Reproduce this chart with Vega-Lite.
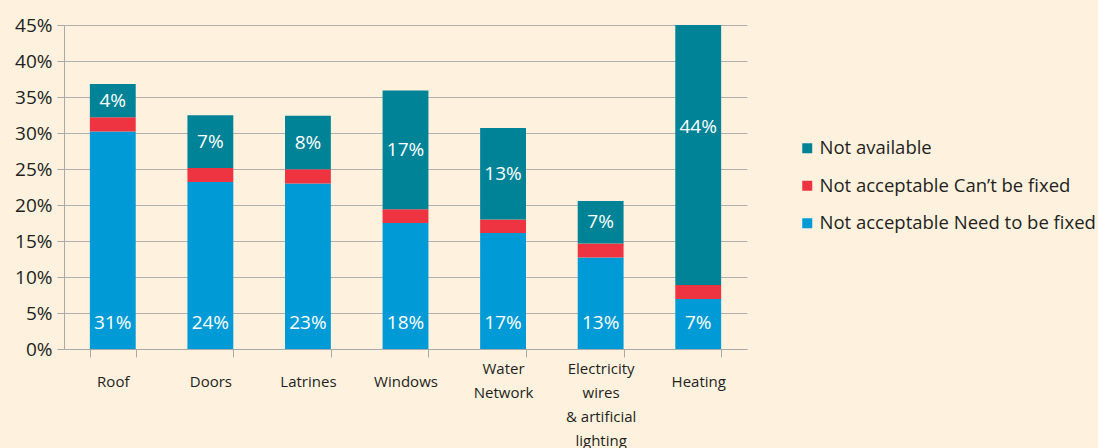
{
  "$schema": "https://vega.github.io/schema/vega-lite/v6.json",
  "width": 683,
  "height": 324,
  "autosize": {"type": "none"},
  "padding": {"left": 64, "top": 25, "right": 351, "bottom": 99},
  "background": "#FEF2DF",
  "config": {
    "view": {"stroke": null},
    "font": "Open Sans",
    "axisX": {
      "title": null,
      "labelAngle": 0,
      "labelFontSize": 15,
      "labelColor": "#231F20",
      "labelLineHeight": 24,
      "labelBaseline": "top",
      "labelOverlap": false,
      "tickBand": "extent",
      "tickSize": 8,
      "tickColor": "#A9A9A9",
      "domainColor": "#A9A9A9",
      "grid": false
    },
    "axisY": {
      "title": null,
      "labelFontSize": 19,
      "labelColor": "#231F20",
      "labelPadding": 5,
      "labelOverlap": false,
      "labelFlush": false,
      "tickSize": 7,
      "tickColor": "#A9A9A9",
      "domainColor": "#A9A9A9",
      "gridColor": "#B0B0B0",
      "grid": true
    }
  },
  "data": {
    "values": [
      {"category": "Roof", "series": "Not acceptable Need to be fixed", "order": 1, "value": 30.2, "label": "31%"},
      {"category": "Roof", "series": "Not acceptable Can’t be fixed", "order": 2, "value": 2.0, "label": ""},
      {"category": "Roof", "series": "Not available", "order": 3, "value": 4.6, "label": "4%"},
      {"category": "Doors", "series": "Not acceptable Need to be fixed", "order": 1, "value": 23.2, "label": "24%"},
      {"category": "Doors", "series": "Not acceptable Can’t be fixed", "order": 2, "value": 1.95, "label": ""},
      {"category": "Doors", "series": "Not available", "order": 3, "value": 7.3, "label": "7%"},
      {"category": "Latrines", "series": "Not acceptable Need to be fixed", "order": 1, "value": 23.0, "label": "23%"},
      {"category": "Latrines", "series": "Not acceptable Can’t be fixed", "order": 2, "value": 1.95, "label": ""},
      {"category": "Latrines", "series": "Not available", "order": 3, "value": 7.45, "label": "8%"},
      {"category": "Windows", "series": "Not acceptable Need to be fixed", "order": 1, "value": 17.5, "label": "18%"},
      {"category": "Windows", "series": "Not acceptable Can’t be fixed", "order": 2, "value": 1.9, "label": ""},
      {"category": "Windows", "series": "Not available", "order": 3, "value": 16.5, "label": "17%"},
      {"category": "Water Network", "series": "Not acceptable Need to be fixed", "order": 1, "value": 16.1, "label": "17%"},
      {"category": "Water Network", "series": "Not acceptable Can’t be fixed", "order": 2, "value": 1.9, "label": ""},
      {"category": "Water Network", "series": "Not available", "order": 3, "value": 12.7, "label": "13%"},
      {"category": "Electricity wires & artificial lighting", "series": "Not acceptable Need to be fixed", "order": 1, "value": 12.7, "label": "13%"},
      {"category": "Electricity wires & artificial lighting", "series": "Not acceptable Can’t be fixed", "order": 2, "value": 1.95, "label": ""},
      {"category": "Electricity wires & artificial lighting", "series": "Not available", "order": 3, "value": 5.9, "label": "7%"},
      {"category": "Heating", "series": "Not acceptable Need to be fixed", "order": 1, "value": 6.95, "label": "7%"},
      {"category": "Heating", "series": "Not acceptable Can’t be fixed", "order": 2, "value": 1.95, "label": ""},
      {"category": "Heating", "series": "Not available", "order": 3, "value": 44, "label": "44%"}
    ]
  },
  "layer": [
    {
      "mark": {"type": "bar", "clip": true},
      "encoding": {
        "x": {
          "field": "category",
          "type": "nominal",
          "sort": ["Roof", "Doors", "Latrines", "Windows", "Water Network", "Electricity wires & artificial lighting", "Heating"],
          "scale": {"paddingInner": 0.53, "paddingOuter": 0.265},
          "axis": {
            "labelPadding": {"condition": {"test": "datum.value === 'Water Network' || datum.value === 'Electricity wires & artificial lighting'", "value": 4}, "value": 17},
            "labelExpr": "datum.value === 'Water Network' ? ['Water', 'Network'] : datum.value === 'Electricity wires & artificial lighting' ? ['Electricity', 'wires', '& artificial', 'lighting'] : datum.value"
          }
        },
        "y": {
          "field": "value",
          "type": "quantitative",
          "stack": "zero",
          "scale": {"domain": [0, 45], "nice": false},
          "axis": {
            "values": [0, 5, 10, 15, 20, 25, 30, 35, 40, 45],
            "labelExpr": "datum.value + '%'"
          }
        },
        "color": {
          "field": "series",
          "type": "nominal",
          "scale": {
            "domain": ["Not available", "Not acceptable Can’t be fixed", "Not acceptable Need to be fixed"],
            "range": ["#008396", "#EE3440", "#009BD6"]
          },
          "legend": {
            "title": null,
            "orient": "none",
            "legendX": 734,
            "legendY": 114,
            "labelFontSize": 18.5,
            "labelColor": "#231F20",
            "labelLimit": 400,
            "symbolType": "square",
            "symbolSize": 100,
            "symbolStrokeWidth": 0,
            "rowPadding": 18.5,
            "labelOffset": 3
          }
        },
        "order": {"field": "order", "type": "quantitative"}
      }
    },
    {
      "transform": [
        {"stack": "value", "groupby": ["category"], "sort": [{"field": "order", "order": "ascending"}], "as": ["y0", "y1"]},
        {"filter": "datum.series === 'Not available'"},
        {"calculate": "(datum.y0 + datum.y1) / 2", "as": "mid"}
      ],
      "mark": {"type": "text", "color": "white", "fontSize": 19, "baseline": "middle"},
      "encoding": {
        "x": {
          "field": "category",
          "type": "nominal",
          "sort": ["Roof", "Doors", "Latrines", "Windows", "Water Network", "Electricity wires & artificial lighting", "Heating"],
          "axis": {
            "labelPadding": {"condition": {"test": "datum.value === 'Water Network' || datum.value === 'Electricity wires & artificial lighting'", "value": 4}, "value": 17},
            "labelExpr": "datum.value === 'Water Network' ? ['Water', 'Network'] : datum.value === 'Electricity wires & artificial lighting' ? ['Electricity', 'wires', '& artificial', 'lighting'] : datum.value"
          }
        },
        "y": {
          "field": "mid",
          "type": "quantitative",
          "axis": {
            "values": [0, 5, 10, 15, 20, 25, 30, 35, 40, 45],
            "labelExpr": "datum.value + '%'"
          }
        },
        "text": {"field": "label"}
      }
    },
    {
      "transform": [{"filter": "datum.series === 'Not acceptable Need to be fixed'"}],
      "mark": {"type": "text", "color": "white", "fontSize": 19, "baseline": "middle"},
      "encoding": {
        "x": {
          "field": "category",
          "type": "nominal",
          "sort": ["Roof", "Doors", "Latrines", "Windows", "Water Network", "Electricity wires & artificial lighting", "Heating"],
          "axis": {
            "labelPadding": {"condition": {"test": "datum.value === 'Water Network' || datum.value === 'Electricity wires & artificial lighting'", "value": 4}, "value": 17},
            "labelExpr": "datum.value === 'Water Network' ? ['Water', 'Network'] : datum.value === 'Electricity wires & artificial lighting' ? ['Electricity', 'wires', '& artificial', 'lighting'] : datum.value"
          }
        },
        "y": {
          "datum": 3.6,
          "type": "quantitative",
          "axis": {
            "values": [0, 5, 10, 15, 20, 25, 30, 35, 40, 45],
            "labelExpr": "datum.value + '%'"
          }
        },
        "text": {"field": "label"}
      }
    }
  ]
}
